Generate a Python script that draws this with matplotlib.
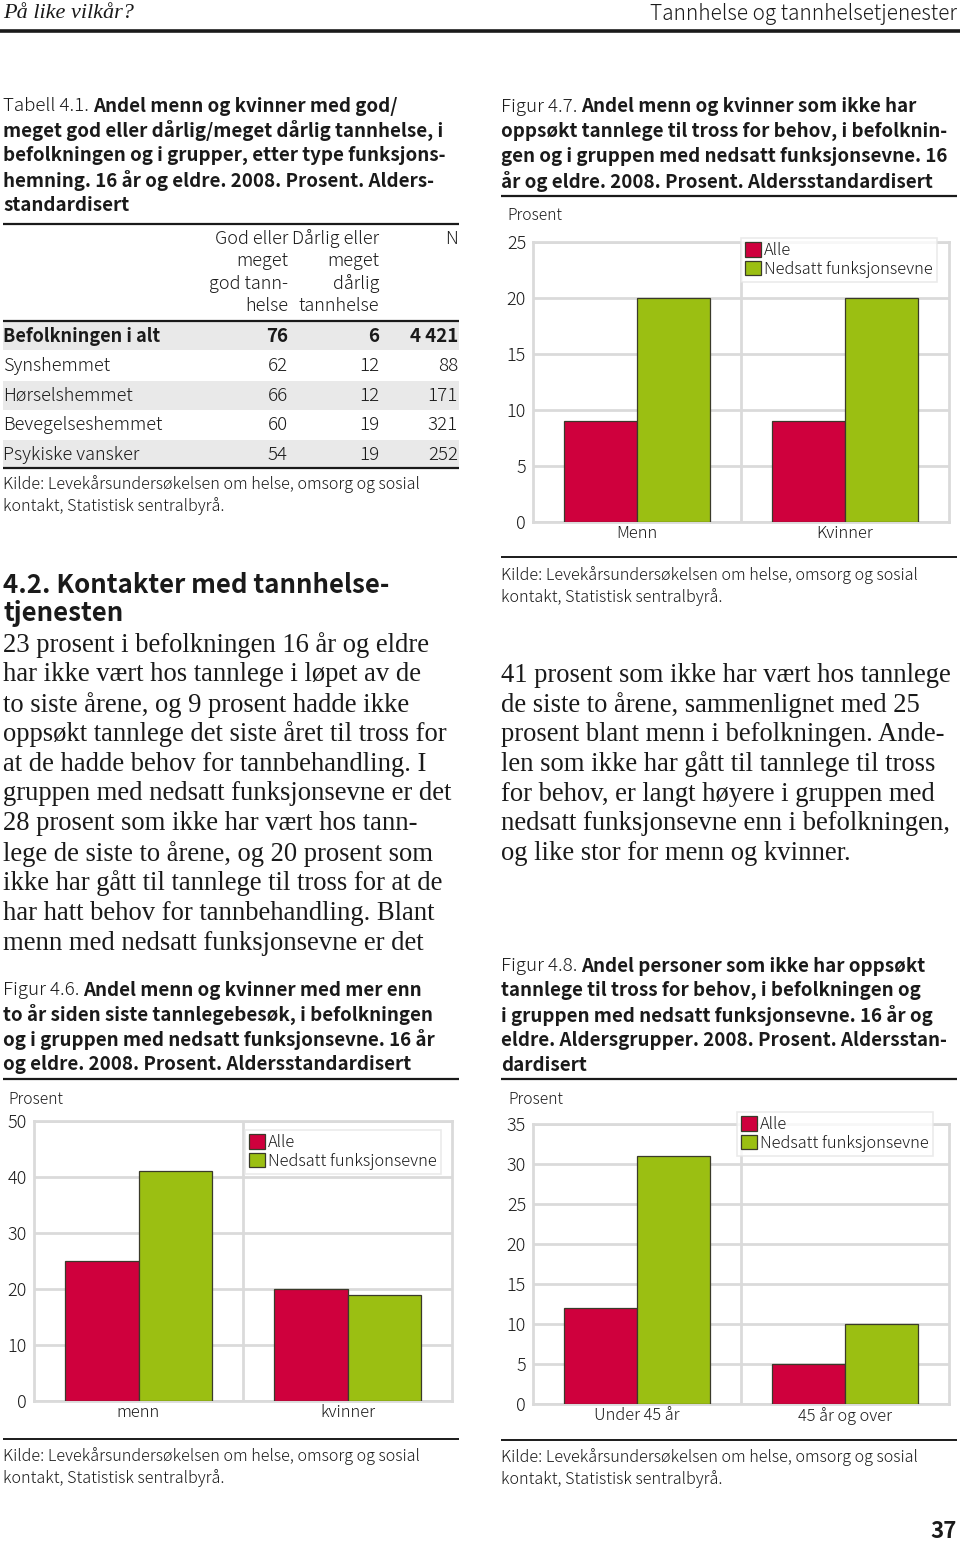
import matplotlib
matplotlib.use('Agg')
import matplotlib.pyplot as plt
from matplotlib.lines import Line2D
from matplotlib.patches import Rectangle
import numpy as np

# ---------------- data ----------------
tab_rows = ['Befolkningen i alt', 'Synshemmet', 'Hørselshemmet', 'Bevegelseshemmet', 'Psykiske vansker']
tab_good = [76, 62, 66, 60, 54]
tab_bad = [6, 12, 12, 19, 19]
tab_n = ['4 421', '88', '171', '321', '252']
tab_head_good = ['God eller', 'meget', 'god tann-', 'helse']
tab_head_bad = ['Dårlig eller', 'meget', 'dårlig', 'tannhelse']

series = ['Alle', 'Nedsatt funksjonsevne']
f46_cats = ['menn', 'kvinner']
f46_alle = [25, 20]
f46_nedsatt = [41, 19]
f47_cats = ['Menn', 'Kvinner']
f47_alle = [9, 9]
f47_nedsatt = [20, 20]
f48_cats = ['Under 45 år', '45 år og over']
f48_alle = [12, 5]
f48_nedsatt = [31, 10]

source = ['Kilde: Levekårsundersøkelsen om helse, omsorg og sosial',
          'kontakt, Statistisk sentralbyrå.']

# ---------------- setup ----------------
W, H = 960, 1545
fig = plt.figure(figsize=(9.6, 15.45), dpi=100)
fig.patch.set_facecolor('white')
renderer = fig.canvas.get_renderer()

SANS = ['Noto Sans CJK JP', 'DejaVu Sans']
SERIF = ['Liberation Serif', 'DejaVu Serif']
INK = '#1a1a1a'
RED = '#cf003d'
GREEN = '#9bbf12'
EDGE = '#3a3a2a'
GRID = '#dadada'
BAND = '#e9e9e9'
LIGHT = 'light'
SRC_SIZE = 11.65


def fx(x):
    return x / W


def fy(y):
    return 1 - y / H


def txt(x, y, s, size=11, weight=LIGHT, ha='left', family=SANS, style='normal', color=INK, va='center'):
    return fig.text(fx(x), fy(y), s, fontsize=size, fontweight=weight, ha=ha, va=va,
                    family=family, style=style, color=color)


def hline(y, x0, x1, lw=1.2, color=INK):
    fig.add_artist(Line2D([fx(x0), fx(x1)], [fy(y), fy(y)], transform=fig.transFigure,
                          lw=lw, color=color, solid_capstyle='butt'))


def caption(x, y0, first_norm, first_bold, rest, size=13.5, step=24.8):
    t = txt(x, y0, first_norm, size=size)
    w = t.get_window_extent(renderer).width
    txt(x + w + 4, y0, first_bold, size=size, weight='bold')
    for i, line in enumerate(rest):
        txt(x, y0 + step * (i + 1), line, size=size, weight='bold')


def chart(box, cats, a, b, ymax, step, leg_xy):
    x0, y0, x1, y1 = box
    ax = fig.add_axes([fx(x0), fy(y1), (x1 - x0) / W, (y1 - y0) / H])
    pos = np.arange(len(cats)) + 0.5
    w = 0.35
    ax.bar(pos - w / 2, a, w, color=RED, edgecolor=EDGE, lw=0.9, zorder=3, label=series[0])
    ax.bar(pos + w / 2, b, w, color=GREEN, edgecolor=EDGE, lw=0.9, zorder=3, label=series[1])
    ax.set_xlim(0, len(cats))
    ax.set_ylim(0, ymax)
    ticks = np.arange(0, ymax + 0.01, step)
    ax.set_yticks(ticks)
    ax.set_yticklabels([f'{int(v)}' for v in ticks], family=SANS, fontsize=13,
                       color=INK, fontweight=LIGHT)
    ax.set_xticks(pos)
    ax.set_xticklabels(cats, family=SANS, fontsize=11.8, color=INK, fontweight=LIGHT)
    ax.tick_params(axis='both', length=0)
    ax.tick_params(axis='y', pad=5)
    ax.tick_params(axis='x', pad=2)
    ax.grid(axis='y', color=GRID, lw=2, zorder=0)
    for k in range(1, len(cats)):
        ax.axvline(k, color=GRID, lw=2, zorder=0)
    ax.set_axisbelow(True)
    for sp in ax.spines.values():
        sp.set_color(GRID)
        sp.set_linewidth(2)
    ax.set_facecolor('white')
    leg = ax.legend(loc='upper left', bbox_to_anchor=(fx(leg_xy[0]), fy(leg_xy[1])),
                    bbox_transform=fig.transFigure, borderaxespad=0, fancybox=False,
                    frameon=True, handlelength=1.0, handleheight=1.0, handletextpad=0.15,
                    borderpad=0.25, labelspacing=0.1,
                    prop={'family': SANS, 'size': 11.8, 'weight': LIGHT})
    leg.get_frame().set_edgecolor('#e6e6e6')
    leg.get_frame().set_linewidth(1.2)
    for t in leg.get_texts():
        t.set_color(INK)
    return ax


# ---------------- header ----------------
txt(3, 14, 'På like vilkår?', size=16, family=SERIF, style='italic', weight='normal')
txt(957, 14, 'Tannhelse og tannhelsetjenester', size=15, ha='right')
hline(31, 0, 960, lw=2.6)

# ---------------- Tabell 4.1 ----------------
caption(3, 106, 'Tabell 4.1.', 'Andel menn og kvinner med god/',
        ['meget god eller dårlig/meget dårlig tannhelse, i',
         'befolkningen og i grupper, etter type funksjons-',
         'hemning. 16 år og eldre. 2008. Prosent. Alders-',
         'standardisert'])

hline(224, 3, 459, lw=1.6)
for i, (g, d) in enumerate(zip(tab_head_good, tab_head_bad)):
    yy = 239 + i * 22.4
    txt(288, yy, g, size=13, ha='right')
    txt(379, yy, d, size=13, ha='right')
txt(458, 239, 'N', size=13, ha='right')
hline(321, 3, 459, lw=1.6)

row_y = [336, 366, 396, 425, 455]
for i, (r, g, d, n) in enumerate(zip(tab_rows, tab_good, tab_bad, tab_n)):
    yy = row_y[i]
    if i % 2 == 0:
        fig.add_artist(Rectangle((fx(3), fy(yy + 14)), (459 - 3) / W, 29 / H,
                                 transform=fig.transFigure, facecolor=BAND, edgecolor='none', zorder=0))
    wt = 'bold' if i == 0 else LIGHT
    txt(3, yy, r, size=13, weight=wt)
    txt(288, yy, str(g), size=13.5, weight=wt, ha='right')
    txt(379, yy, str(d), size=13.5, weight=wt, ha='right')
    txt(458, yy, n, size=13.5, weight=wt, ha='right')
hline(468, 3, 459, lw=1.6)
txt(3, 484, source[0], size=SRC_SIZE)
txt(3, 506, source[1], size=SRC_SIZE)

# ---------------- left body text ----------------
txt(3, 585, '4.2. Kontakter med tannhelse-', size=18.6, weight='bold')
txt(3, 614, 'tjenesten', size=18.6, weight='bold')
body_left = ['23 prosent i befolkningen 16 år og eldre',
             'har ikke vært hos tannlege i løpet av de',
             'to siste årene, og 9 prosent hadde ikke',
             'oppsøkt tannlege det siste året til tross for',
             'at de hadde behov for tannbehandling. I',
             'gruppen med nedsatt funksjonsevne er det',
             '28 prosent som ikke har vært hos tann-',
             'lege de siste to årene, og 20 prosent som',
             'ikke har gått til tannlege til tross for at de',
             'har hatt behov for tannbehandling. Blant',
             'menn med nedsatt funksjonsevne er det']
for i, line in enumerate(body_left):
    txt(3, 645 + i * 29.8, line, size=19.2, family=SERIF, weight='normal')

# ---------------- Figur 4.6 ----------------
caption(3, 990, 'Figur 4.6.', 'Andel menn og kvinner med mer enn',
        ['to år siden siste tannlegebesøk, i befolkningen',
         'og i gruppen med nedsatt funksjonsevne. 16 år',
         'og eldre. 2008. Prosent. Aldersstandardisert'])
hline(1079, 3, 459, lw=1.6)
txt(8, 1099, 'Prosent', size=11.3)
chart((34, 1121, 452, 1401), f46_cats, f46_alle, f46_nedsatt, 50, 10, (245, 1130))
hline(1439, 3, 459, lw=1.4)
txt(3, 1456, source[0], size=SRC_SIZE)
txt(3, 1478, source[1], size=SRC_SIZE)

# ---------------- Figur 4.7 ----------------
caption(501, 107, 'Figur 4.7.', 'Andel menn og kvinner som ikke har',
        ['oppsøkt tannlege til tross for behov, i befolknin-',
         'gen og i gruppen med nedsatt funksjonsevne. 16',
         'år og eldre. 2008. Prosent. Aldersstandardisert'])
hline(196, 501, 957, lw=1.6)
txt(507, 216, 'Prosent', size=11.3)
chart((533, 242, 949, 522), f47_cats, f47_alle, f47_nedsatt, 25, 5, (741, 238))
hline(557, 501, 957, lw=1.4)
txt(501, 575, source[0], size=SRC_SIZE)
txt(501, 597, source[1], size=SRC_SIZE)

# ---------------- right body text ----------------
body_right = ['41 prosent som ikke har vært hos tannlege',
              'de siste to årene, sammenlignet med 25',
              'prosent blant menn i befolkningen. Ande-',
              'len som ikke har gått til tannlege til tross',
              'for behov, er langt høyere i gruppen med',
              'nedsatt funksjonsevne enn i befolkningen,',
              'og like stor for menn og kvinner.']
for i, line in enumerate(body_right):
    txt(501, 675 + i * 29.8, line, size=19.2, family=SERIF, weight='normal')

# ---------------- Figur 4.8 ----------------
caption(501, 966, 'Figur 4.8.', 'Andel personer som ikke har oppsøkt',
        ['tannlege til tross for behov, i befolkningen og',
         'i gruppen med nedsatt funksjonsevne. 16 år og',
         'eldre. Aldersgrupper. 2008. Prosent. Aldersstan-',
         'dardisert'])
hline(1079, 501, 957, lw=1.6)
txt(508, 1099, 'Prosent', size=11.3)
chart((533, 1124, 949, 1404), f48_cats, f48_alle, f48_nedsatt, 35, 5, (737, 1112))
hline(1440, 501, 957, lw=1.4)
txt(501, 1457, source[0], size=SRC_SIZE)
txt(501, 1479, source[1], size=SRC_SIZE)

# ---------------- page number ----------------
txt(957, 1531, '37', size=16, weight='bold', ha='right')

fig.savefig('out.png', dpi=100, facecolor='white')
